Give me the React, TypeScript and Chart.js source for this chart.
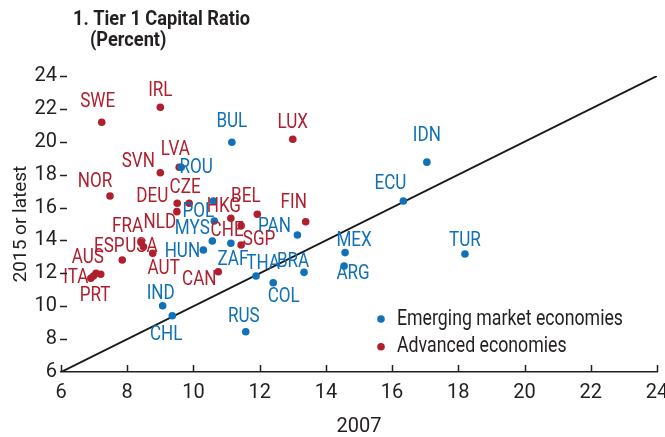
import React, { useEffect, useRef } from "react";
import { Chart, registerables } from "chart.js";

Chart.register(...registerables);

// ---- Data ----
const emCodes = ["BUL", "ROU", "POL", "MYS", "", "HUN", "ZAF", "THA", "COL", "BRA", "PAN", "MEX", "ARG", "TUR", "IDN", "ECU", "IND", "CHL", "RUS"];
const em2007 = [11.16, 9.63, 10.6, 10.63, 10.57, 10.3, 11.13, 11.89, 12.41, 13.34, 13.14, 14.58, 14.55, 18.2, 17.05, 16.34, 9.07, 9.36, 11.58];
const emLatest = [19.97, 18.45, 16.4, 15.18, 13.97, 13.42, 13.83, 11.84, 11.43, 12.06, 14.33, 13.26, 12.45, 13.18, 18.76, 16.4, 10.03, 9.42, 8.45];

const aeCodes = ["SWE", "IRL", "LUX", "SVN", "LVA", "NOR", "DEU", "CZE", "NLD", "HKG", "CHE", "BEL", "SGP", "CAN", "FIN", "FRA", "USA", "AUT", "ESP", "AUS", "ITA", "PRT", ""];
const ae2007 = [7.23, 9.0, 13.0, 9.0, 9.57, 7.48, 9.51, 9.87, 9.5, 11.13, 11.44, 11.93, 11.44, 10.75, 13.39, 8.42, 8.49, 8.77, 7.85, 7.2, 6.9, 7.06, 6.98];
const aeLatest = [21.19, 22.1, 20.15, 18.12, 18.45, 16.7, 16.26, 16.26, 15.75, 15.35, 14.9, 15.59, 13.72, 12.1, 15.14, 13.87, 13.62, 13.22, 12.81, 11.94, 11.7, 12.0, 11.84];

const xTicks = [6, 8, 10, 12, 14, 16, 18, 20, 22, 24];
const yTicks = [6, 8, 10, 12, 14, 16, 18, 20, 22, 24];

const seriesNames = ["Emerging market economies", "Advanced economies"];
const titleLines = ["1. Tier 1 Capital Ratio", "(Percent)"];
const xTitle = "2007";
const yTitle = "2015 or latest";

// ---- Label placement (pixel offsets of label centre from its point) ----
const labelOffsets: Record<string, [number, number]> = {
  SWE: [-4, -20], IRL: [0, -16], LUX: [0, -17], SVN: [-22, -11], LVA: [-4, -18],
  NOR: [-15, -14], DEU: [-25, -7], CZE: [-4, -16], NLD: [-17, 11], HKG: [-7, -11],
  CHE: [-14, 5], BEL: [-11.5, -17.5], SGP: [18, -5], CAN: [-19, 8], FIN: [-12, -18.5],
  FRA: [-13.5, -16], USA: [-2, 0], AUT: [11, 15], ESP: [-13, -13], AUS: [-13, -17],
  ITA: [-15, -1], PRT: [-1, 22],
  BUL: [0, -21], ROU: [15, 0], POL: [-15, 11], MYS: [-22, 8], HUN: [-21, 2],
  ZAF: [2, 17], THA: [7, -12], COL: [10.5, 14], BRA: [-11, -11], PAN: [-23, -8],
  MEX: [9, -12], ARG: [9, 8], TUR: [0, -13], IDN: [0, -26], ECU: [-13, -17],
  IND: [-2, -12], CHL: [-6, 19], RUS: [-2, -15],
};

const FONT = "Roboto, 'Liberation Sans', sans-serif";
const TEXT = "#231f20";
const BLUE = "#1070b8";
const RED = "#b01f2e";

// draw text squeezed horizontally to imitate the condensed face of the original
function squeezed(ctx: CanvasRenderingContext2D, text: string, x: number, y: number, k: number) {
  ctx.save();
  ctx.translate(x, y);
  ctx.scale(k, 1);
  ctx.fillText(text, 0, 0);
  ctx.restore();
}

const labelPlugin = {
  id: "pointLabels",
  afterDatasetsDraw(chart: any) {
    const ctx = chart.ctx;
    ctx.save();
    ctx.font = `21px ${FONT}`;
    ctx.textAlign = "center";
    ctx.textBaseline = "middle";
    const k = 35 / ctx.measureText("SWE").width;
    chart.data.datasets.forEach((ds: any, di: number) => {
      if (!ds.codes) return;
      const meta = chart.getDatasetMeta(di);
      ctx.fillStyle = ds.backgroundColor;
      meta.data.forEach((el: any, i: number) => {
        const code = ds.codes[i];
        if (!code) return;
        const [dx, dy] = labelOffsets[code] || [0, -14];
        squeezed(ctx, code, el.x + dx, el.y + dy, k);
      });
    });
    ctx.restore();
  },
};

const decorPlugin = {
  id: "decor",
  afterDraw(chart: any) {
    const ctx = chart.ctx;
    const { left, bottom } = chart.chartArea;
    const xs = chart.scales.x;
    const ys = chart.scales.y;
    ctx.save();
    // tick marks (inside)
    ctx.strokeStyle = TEXT;
    ctx.lineWidth = 1.5;
    ctx.beginPath();
    xTicks.forEach((v) => {
      const px = Math.round(xs.getPixelForValue(v)) + 0.5;
      ctx.moveTo(px, bottom);
      ctx.lineTo(px, bottom - 7);
    });
    yTicks.forEach((v) => {
      if (v === 6) return;
      const py = Math.round(ys.getPixelForValue(v)) + 0.5;
      ctx.moveTo(left - 1, py);
      ctx.lineTo(left + 6, py);
    });
    ctx.stroke();

    // title
    ctx.fillStyle = TEXT;
    ctx.textAlign = "left";
    ctx.textBaseline = "alphabetic";
    ctx.font = `bold 21px ${FONT}`;
    const kt = 177 / ctx.measureText(titleLines[0]).width;
    squeezed(ctx, titleLines[0], 73, 25, kt);
    squeezed(ctx, titleLines[1], 90, 46, kt);

    // legend
    const lx = left + 320;
    const ly = bottom - 53;
    const colors = [BLUE, RED];
    ctx.font = `22px ${FONT}`;
    ctx.textBaseline = "middle";
    const kl = 226 / ctx.measureText(seriesNames[0]).width;
    seriesNames.forEach((name, i) => {
      const y = ly + i * 27.7;
      ctx.fillStyle = colors[i];
      ctx.beginPath();
      ctx.arc(lx, y, 3.8, 0, Math.PI * 2);
      ctx.fill();
      ctx.fillStyle = TEXT;
      squeezed(ctx, name, lx + 16, y, kl);
    });
    ctx.restore();
  },
};

export default function App() {
  const ref = useRef<HTMLCanvasElement>(null);
  useEffect(() => {
    if (!ref.current) return;
    Chart.defaults.font.family = FONT;
    const chart = new Chart(ref.current, {
      type: "scatter",
      data: {
        datasets: [
          {
            type: "line",
            label: "45-degree line",
            data: [{ x: xTicks[0], y: yTicks[0] }, { x: xTicks[xTicks.length - 1], y: yTicks[yTicks.length - 1] }],
            borderColor: "#1a1a1a",
            borderWidth: 2,
            pointRadius: 0,
            fill: false,
            order: 3,
          } as any,
          {
            label: seriesNames[1],
            codes: aeCodes,
            data: ae2007.map((x, i) => ({ x, y: aeLatest[i] })),
            backgroundColor: RED,
            borderWidth: 0,
            pointRadius: 3.8,
            order: 2,
          } as any,
          {
            label: seriesNames[0],
            codes: emCodes,
            data: em2007.map((x, i) => ({ x, y: emLatest[i] })),
            backgroundColor: BLUE,
            borderWidth: 0,
            pointRadius: 3.8,
            order: 1,
          } as any,
        ],
      },
      options: {
        responsive: false,
        animation: false,
        devicePixelRatio: 1,
        layout: { padding: { top: 76, right: 8, left: 0, bottom: 0 } },
        plugins: { legend: { display: false }, tooltip: { enabled: false }, title: { display: false } },
        scales: {
          x: {
            type: "linear",
            min: 6,
            max: 24,
            ticks: { stepSize: 2, padding: 9, color: TEXT, font: { size: 20, family: FONT } },
            grid: { display: false, drawTicks: false },
            border: { display: true, color: TEXT, width: 1.5 },
            title: { display: true, text: xTitle, color: TEXT, font: { size: 20, family: FONT, lineHeight: 1 }, padding: { top: 0, bottom: 0 } },
            afterFit(s: any) {
              s.height = 65;
              s.paddingLeft = 0;
              s.paddingRight = 0;
            },
          },
          y: {
            type: "linear",
            min: 6,
            max: 24,
            ticks: { stepSize: 2, padding: 4, color: TEXT, font: { size: 20, family: FONT } },
            grid: { display: false, drawTicks: false },
            border: { display: false },
            title: { display: true, text: yTitle, color: TEXT, font: { size: 19, family: FONT, lineHeight: 1 }, padding: { top: 12, bottom: 0 } },
            afterFit(s: any) {
              s.width = 61;
            },
          },
        },
      } as any,
      plugins: [labelPlugin, decorPlugin],
    });
    return () => chart.destroy();
  }, []);
  return (
    <div style={{ position: "fixed", left: 0, top: 0, width: 665, height: 437, background: "#fff" }}>
      <canvas ref={ref} width={665} height={437} />
    </div>
  );
}
